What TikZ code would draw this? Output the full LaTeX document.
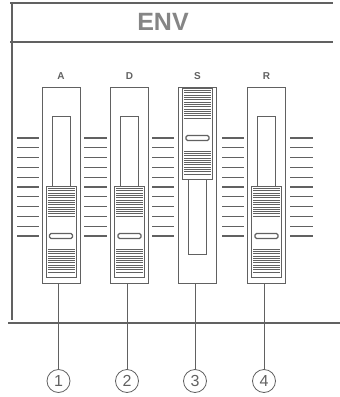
\documentclass[tikz,border=0pt]{standalone}
\usepackage{fontspec}
\setmainfont{Liberation Sans}
\usepackage{tikz}
\usetikzlibrary{calc}
\usepackage{xcolor}
\definecolor{panel}{gray}{0.38}
\definecolor{lettering}{gray}{0.52}

\begin{document}
\begin{tikzpicture}[x=1pt, y=-1pt, line width=0.9pt, draw=panel,
        slider/.style={draw=panel, minimum width=38pt, minimum height=196pt, inner sep=0pt},
        knobhatch/.style={draw=panel, line width=0.7pt},
        number/.style={circle, draw=panel, line width=0.8pt, minimum size=23pt, inner sep=0pt,
            text=panel, font=\fontsize{16}{16}\selectfont}]
        \useasboundingbox (0,0) rectangle (340,397);

        % Panel frame
        \draw[line width=1.3pt] (10,3) -- (333,3);
        \draw[line width=1.3pt] (10,42) -- (333,42);
        \draw[line width=1.3pt] (12,3) -- (12,320);
        \draw[line width=1.1pt] (8,323) -- (340,323);
        \node[text=lettering, font=\bfseries\fontsize{25}{25}\selectfont] (title) at (163,22) {ENV};

        % Scale ticks between the sliders
        \foreach \xa/\xb in {17/39, 84/107, 152/174, 222/244, 290/313}
        \foreach \i in {0,...,10}
        {
            \draw[line width=1pt] (\xa,138+9.8*\i) -- (\xb,138+9.8*\i);
        }
        \foreach \xa/\xb in {17/39, 84/107, 152/174, 222/244, 290/313}
        \foreach \i in {0,5,10}
        {
            \draw[line width=1.6pt] (\xa,138+9.8*\i) -- (\xb,138+9.8*\i);
        }

        % Sliders, knobs, labels and numbers
        \foreach \n/\cx/\lab/\kt in {1/61/A/186, 2/129.5/D/186, 3/197.5/S/88, 4/266.5/R/186}
        {
            \node[slider] (f\n) at (\cx,185) {};
            \node[text=panel, font=\bfseries\fontsize{10}{10}\selectfont] (l\n) at (\cx,76) {\lab};
            \draw (\cx-9,116) rectangle (\cx+9,254); % slot
            % knob
            \draw[fill=white] (\cx-15,\kt) rectangle (\cx+15,\kt+91);
            \foreach \h in {0,2.3,...,28}
                \draw[knobhatch] (\cx-13.5,\kt+2.5+\h) -- (\cx+13.5,\kt+2.5+\h);
            \foreach \h in {0,2.3,...,25}
                \draw[knobhatch] (\cx-13.5,\kt+63+\h) -- (\cx+13.5,\kt+63+\h);
            \draw[line width=1.2pt, rounded corners=1.5pt] (\cx-11.5,\kt+47.5) rectangle (\cx+11.5,\kt+52.5);
            \node[number] (c\n) at (\cx-2.5,381) {\n};
            \draw (f\n.south -| c\n) -- (c\n);
        }
    \end{tikzpicture}
\end{document}
